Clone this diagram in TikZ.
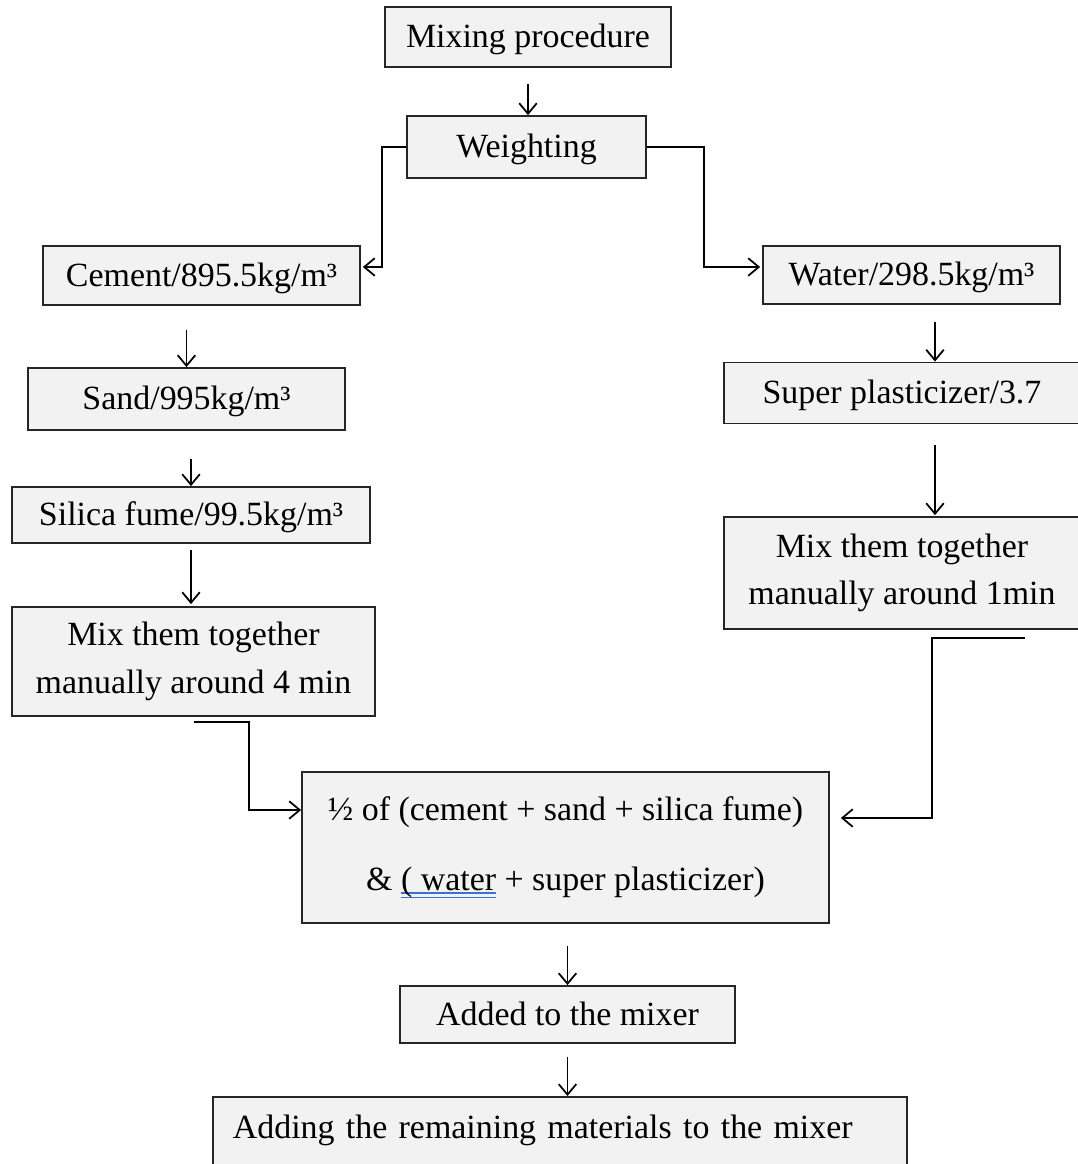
\documentclass[tikz,border=0pt]{standalone}
\usepackage{fontspec}
\setmainfont{Liberation Serif}
\usetikzlibrary{arrows.meta}
\definecolor{boxgray}{HTML}{F2F2F2}
\definecolor{gramblue}{HTML}{3F6FD0}
\newcommand{\gramline}[1]{\setbox0\hbox{#1}\rlap{\color{gramblue}\rule[-2pt]{\wd0}{0.8pt}\kern-\wd0\rule[-4.5pt]{\wd0}{0.8pt}}\box0\relax}
\tikzset{
  stage/.style={draw=black!85, fill=boxgray, line width=1pt, align=center, inner sep=2pt,
    font=\fontsize{19.3}{27}\selectfont},
  oneline/.style={stage, text height=16.6pt, text depth=4.2pt},
}
\begin{document}
\begin{tikzpicture}[>={Straight Barb[length=6pt,width=10pt]}, line width=1pt]
\useasboundingbox (0,0) rectangle (21.56,-23.28);

\node[oneline, minimum width=5.72cm, minimum height=1.2cm] (mixproc) at (10.56,-0.74) {Mixing procedure};
\node[oneline, minimum width=4.78cm, minimum height=1.24cm] (weigh) at (10.53,-2.94) {Weighting};

% left branch
\node[oneline, minimum width=6.34cm, minimum height=1.18cm] (cement) at (4.03,-5.51) {Cement/895.5kg/m³};
\node[oneline, minimum width=6.34cm, minimum height=1.24cm] (sand) at (3.73,-7.98) {Sand/995kg/m³};
\node[oneline, minimum width=7.16cm, minimum height=1.12cm] (silica) at (3.82,-10.3) {Silica fume/99.5kg/m³};
\node[stage, minimum width=7.26cm, minimum height=2.18cm] (mixfour) at (3.87,-13.23) {Mix them together\\manually around 4 min};

% right branch
\node[oneline, minimum width=5.94cm, minimum height=1.16cm] (water) at (18.23,-5.5) {Water/298.5kg/m³};
\node[oneline, minimum width=7.12cm, minimum height=1.22cm] (plast) at (18.04,-7.86) {Super plasticizer/3.7};
\node[stage, minimum width=7.12cm, minimum height=2.24cm] (mixone) at (18.04,-11.46) {Mix them together\\manually around 1min};

% joining
\node[stage, minimum width=10.54cm, minimum height=3.02cm] (half) at (11.31,-16.95) {½ of (cement + sand + silica fume)\\[12.7pt]\& \gramline{( water} + super plasticizer)};
\node[oneline, minimum width=6.7cm, minimum height=1.14cm] (added) at (11.35,-20.29) {Added to the mixer};
\node[stage, anchor=north west, inner xsep=0.4cm, inner ysep=0.2cm, text width=13.08cm, align=left,
  text height=0.64cm, text depth=2cm] (remain) at (4.24,-21.92) {Adding the remaining materials to the mixer};

\draw[->, shorten <=0.32cm] (mixproc.south) -- (mixproc.south |- weigh.north);
\draw[->, shorten >=0.04cm] (weigh.west) -- ++(-0.48,0) |- ([yshift=0.17cm]cement.east);
\draw[->, shorten >=0.04cm] (weigh.east) -- ++(1.14,0) |- ([yshift=0.16cm]water.west);

\draw[->, shorten <=0.48cm] (cement.south -| sand.north) -- (sand.north);
\draw[->, shorten <=0.56cm] (silica.north |- sand.south) -- (silica.north);
\draw[->, shorten <=0.12cm, shorten >=0.04cm] (silica.south) -- (silica.south |- mixfour.north);

\draw[->, shorten <=0.34cm] ([xshift=0.47cm]water.south) -- ([xshift=0.47cm]water.south |- plast.north);
\draw[->, shorten <=0.42cm, shorten >=0.02cm] ([xshift=0.66cm]plast.south) -- ([xshift=0.66cm]plast.south |- mixone.north);

\draw[->] ([yshift=-0.1cm]mixfour.south) -- ++(1.11,0) |- ([yshift=0.75cm]half.west);
\draw[->, shorten >=0.22cm] ([xshift=2.46cm,yshift=-0.16cm]mixone.south) -- ++(-1.86,0) |- ([yshift=0.59cm]half.east);

\draw[->, shorten <=0.44cm] (added.north |- half.south) -- (added.north);
\draw[->, shorten <=0.26cm] (added.south) -- (added.south |- remain.north);
\end{tikzpicture}
\end{document}
